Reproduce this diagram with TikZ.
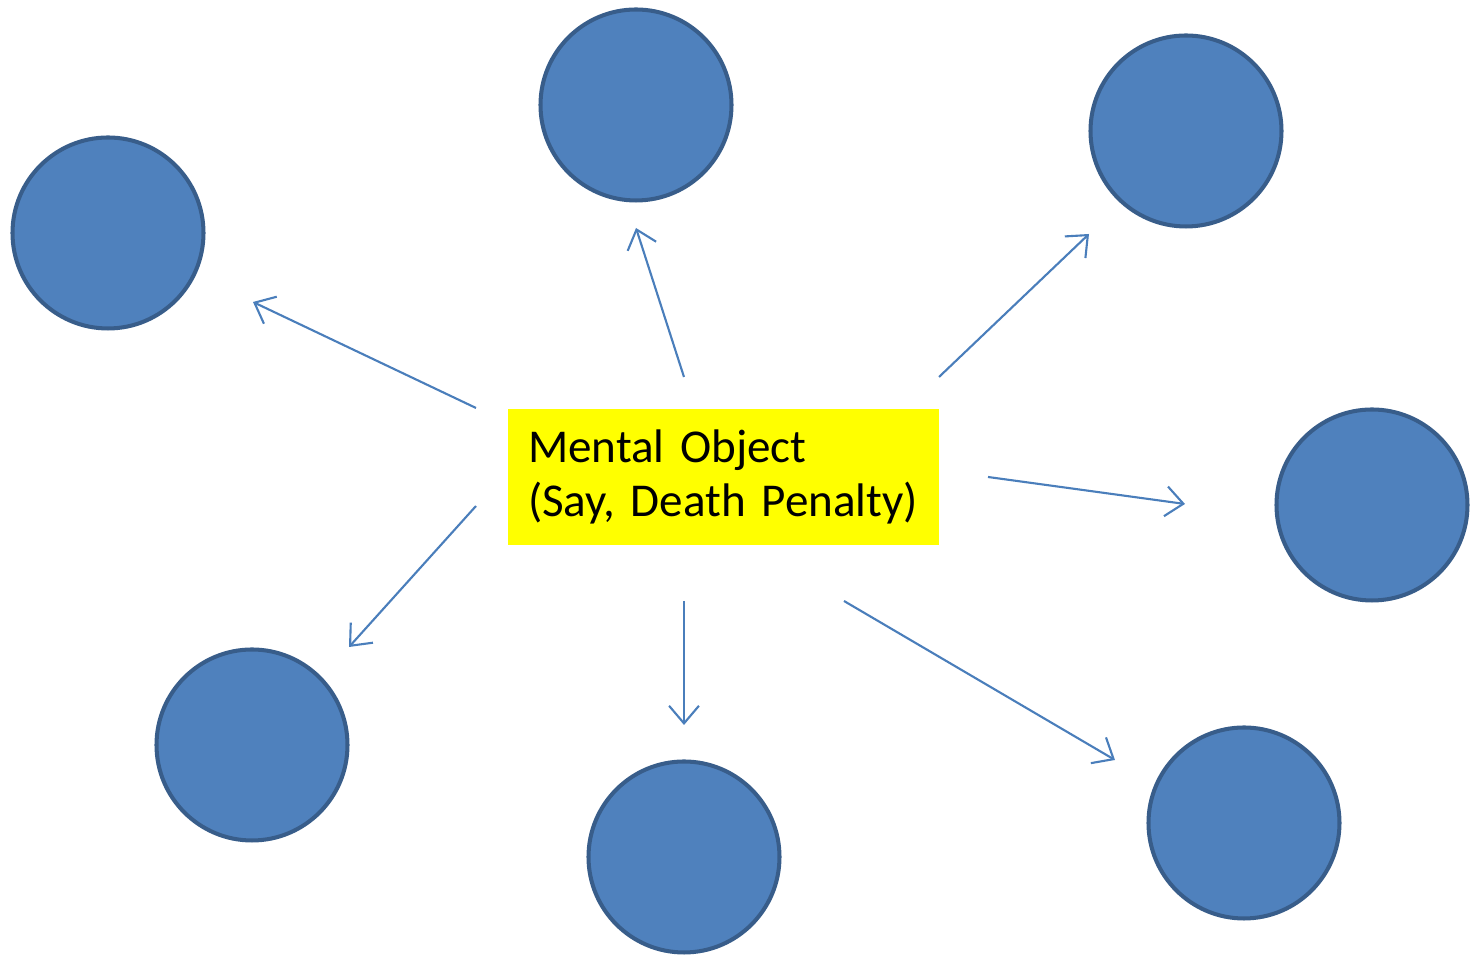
\documentclass[tikz,border=0pt]{standalone}
\usepackage{fontspec}
\setmainfont{Carlito}
\usetikzlibrary{arrows.meta}
\definecolor{bubblecol}{RGB}{79,129,189}
\definecolor{bubbleedge}{RGB}{56,93,138}
\definecolor{linkcol}{RGB}{74,126,187}
\definecolor{boxcol}{RGB}{255,255,0}
\tikzstyle{bubble}=[circle,draw=bubbleedge,fill=bubblecol,line width=1.15pt,minimum size=1.91cm,inner sep=0pt]
\tikzstyle{link}=[draw=linkcol,line width=0.6pt,-{Straight Barb[length=5pt,width=8.5pt,line width=0.6pt]}]
\tikzstyle{objbox}=[fill=boxcol,text width=3.91cm,align=left,minimum height=1.36cm,inner xsep=0.2cm,inner ysep=0pt,font=\fontsize{13.4}{15.6}\selectfont]

\begin{document}
\begin{tikzpicture}
  \useasboundingbox (0,0) rectangle (14.74,9.56);

  % the mental object in the middle
  \node[objbox] (obj) at (7.235,4.79) {Mental Object\\(Say, Death Penalty)};

  % the bubbles round it
  \foreach \i/\x/\y in {1/1.08/7.23, 2/6.36/8.51, 3/11.86/8.25, 4/13.72/4.51,
                        5/12.44/1.33, 6/6.84/0.99, 7/2.52/2.11}
    \node[bubble] (c\i) at (\x,\y) {};

  % arrows (they stop short of box and bubbles)
  \foreach \i/\sx/\sy/\ex/\ey in {1/4.76/5.48/2.53/6.54, 2/6.84/5.79/6.36/7.28,
                                  3/9.39/5.79/10.89/7.22, 4/9.88/4.79/11.85/4.52,
                                  5/8.44/3.55/11.15/1.96, 6/6.84/3.55/6.84/2.31,
                                  7/4.76/4.50/3.49/3.09} {
    \coordinate (s\i) at (\sx,\sy);
    \coordinate (e\i) at (\ex,\ey);
    \draw[link] (s\i) -- (e\i);
  }
\end{tikzpicture}
\end{document}
